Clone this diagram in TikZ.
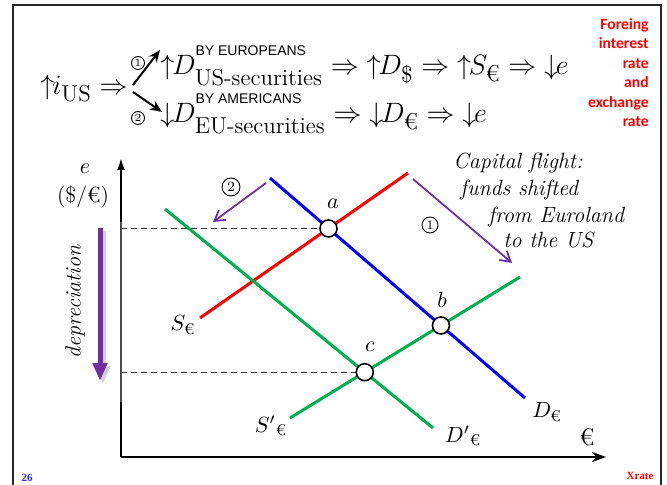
\documentclass[tikz,border=0pt]{standalone}
\usepackage{fix-cm}
\usepackage{amsmath}
\usepackage{fontspec}
\setsansfont{Liberation Sans}
\newfontfamily\redfont{Carlito}
\newfontfamily\slidefont{Liberation Serif}
\usetikzlibrary{arrows.meta,calc}
\DeclareMathSizes{14}{14}{11.5}{8}
\definecolor{flightpurple}{RGB}{112,48,160}
\definecolor{curvegreen}{RGB}{0,176,80}
\definecolor{pageblue}{RGB}{40,40,240}
\newcommand{\bytag}[1]{\text{\raisebox{4.5pt}{\sffamily\fontsize{7}{7}\selectfont #1}}}
\newcommand{\incr}{\mathord{\uparrow}\mkern-1.5mu}
\newcommand{\decr}{\mathord{\downarrow}\mkern-1.5mu}

\begin{document}
\begin{tikzpicture}[x=0.5pt,y=-0.5pt,>=Latex,
  curve/.style={line width=1.5pt},
  axis/.style={line width=1pt,black},
  guide/.style={dash pattern=on 3pt off 2pt,line width=0.6pt,black!80},
  eqpt/.style={circle,draw,fill=white,line width=0.8pt,minimum size=8.5pt,inner sep=0pt},
  shiftarr/.style={flightpurple,line width=0.9pt,-{Straight Barb[length=5pt,width=6pt]}},
  lbl/.style={inner sep=0pt,font=\fontsize{11}{13}\selectfont},
  chain/.style={anchor=base west,inner sep=0pt,font=\fontsize{14}{17}\selectfont},
  circnum/.style={circle,draw,line width=0.45pt,inner sep=0pt,minimum size=6.5pt,font=\fontsize{5.5}{5.5}\selectfont},
  note/.style={anchor=west,inner sep=0pt,font=\itshape\fontsize{11}{13}\selectfont}]
\useasboundingbox (0,0) rectangle (667,485);
% slide frame
\draw[line width=1.3pt,black!85] (13,485) -- (13,5) -- (661,5) -- (661,485);

% chain of effects
\node[chain] (ius) at (40,95) {$\incr i_{\mathrm{US}} \Rightarrow$};
\node[chain] (up) at (160,75) {$\incr D^{\bytag{BY EUROPEANS}}_{\text{US-securities}} \Rightarrow \incr D_{\$} \Rightarrow \incr S_{\text{€}} \Rightarrow \decr e$};
\node[chain] (down) at (160,123) {$\decr D^{\bytag{BY AMERICANS}}_{\text{EU-securities}} \Rightarrow \decr D_{\text{€}} \Rightarrow \decr e$};
\coordinate (forkup) at (133,85);
\coordinate (forkdn) at (133,92);
\coordinate (tipup) at (160,50);
\coordinate (tipdn) at (162,112);
\draw[line width=1pt,-{Stealth[length=6pt,width=5pt]}] (forkup) -- (tipup);
\draw[line width=1pt,-{Stealth[length=6pt,width=5pt]}] (forkdn) -- (tipdn);
\node[circnum] (one) at (138,63) {1};
\node[circnum] (two) at (138,118) {2};
\node[anchor=north east,align=right,inner sep=0pt,text=red,
  font=\redfont\bfseries\fontsize{7.8}{9.75}\selectfont] (topic) at (649,18)
  {Foreing\\interest\\rate\\and\\exchange\\rate};

% axes
\coordinate (O) at (121,457);
\coordinate (ytop) at (121,158);
\coordinate (xtip) at (606,457);
\draw[axis,-{Latex[length=6pt,width=4pt]}] (O) -- (ytop);
\draw[axis,-{Stealth[length=7pt,width=5pt]}] (O) -- (xtip);
\draw[line width=1.3pt,black!70] (121,222) -- (121,402);
\node[lbl] (le) at (85,169) {$e$};
\node[lbl] (lunit) at (83,197) {(\$/€)};
\node[lbl,rotate=90,font=\itshape\fontsize{11}{13}\selectfont] (ldep) at (75,302) {depreciation};
\coordinate (dep1) at (100,228);
\coordinate (dep2) at (100,381);
\draw[black!18,line width=2.5pt,-{Triangle[length=9pt,width=7pt]}] ($(dep1)+(3,3)$) -- ($(dep2)+(3,3)$);
\draw[flightpurple,line width=2.5pt,-{Triangle[length=9pt,width=7pt]}] (dep1) -- (dep2);
\node[lbl] (leuro) at (587,437) {\fontsize{12}{12}\selectfont €};

% curves
\coordinate (s1) at (200,318); \coordinate (s2) at (408,173);
\coordinate (d1) at (270,178); \coordinate (d2) at (525,398);
\coordinate (dp1) at (165,209); \coordinate (dp2) at (433,428);
\coordinate (sp1) at (290,418); \coordinate (sp2) at (520,277);
\coordinate (a) at (intersection of s1--s2 and d1--d2);
\coordinate (b) at (intersection of sp1--sp2 and d1--d2);
\coordinate (c) at (intersection of sp1--sp2 and dp1--dp2);
\draw[guide] (O |- a) -- (a);
\draw[guide] (O |- c) -- (c);
\draw[curve,red] (s1) -- (s2);
\draw[curve,blue] (d1) -- (d2);
\draw[curve,curvegreen] (dp1) -- (dp2);
\draw[curve,curvegreen] (sp1) -- (sp2);
\node[eqpt] (pa) at (a) {};
\node[eqpt] (pb) at (b) {};
\node[eqpt] (pc) at (c) {};
\node[lbl] (la) at (333,204) {$a$};
\node[lbl] (lb) at (442,300) {$b$};
\node[lbl] (lc) at (370,347) {$c$};
\node[lbl] (lS) at (183,325) {$S_{\text{€}}$};
\node[lbl] (lSp) at (271,426) {${S'}_{\text{€}}$};
\node[lbl] (lD) at (547,412) {$D_{\text{€}}$};
\node[lbl] (lDp) at (463,436) {${D'}_{\text{€}}$};

% shifts
\coordinate (sh1a) at (413,179); \coordinate (sh1b) at (512,263);
\coordinate (sh2a) at (266,183); \coordinate (sh2b) at (213,222);
\draw[shiftarr] (sh1a) -- (sh1b);
\draw[shiftarr] (sh2a) -- (sh2b);
\node[circnum,minimum size=8pt,font=\fontsize{6.5}{6.5}\selectfont] (sone) at (430,225) {1};
\node[circnum,minimum size=9pt,font=\fontsize{7}{7}\selectfont] (stwo) at (231,187) {2};
\node[note] (cap1) at (453,163) {Capital flight:};
\node[note] (cap2) at (460,190) {funds shifted};
\node[note] (cap3) at (488,217) {from Euroland};
\node[note] (cap4) at (503,240) {to the US};

% footer
\node[inner sep=0pt,text=pageblue,font=\slidefont\bfseries\fontsize{5.5}{6}\selectfont] (pgno) at (27,478) {26};
\node[inner sep=0pt,text=red,font=\slidefont\bfseries\fontsize{5.5}{6}\selectfont] (xrate) at (640,476) {Xrate};
\end{tikzpicture}
\end{document}
